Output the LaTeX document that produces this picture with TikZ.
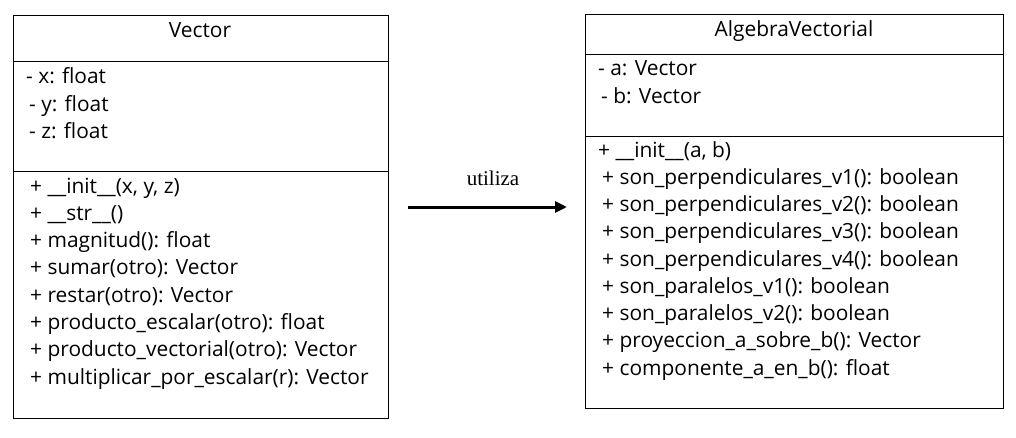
\documentclass[tikz,border=0pt]{standalone}
\usepackage{fontspec}
\setmainfont{Open Sans}
\newfontfamily\serifx{Liberation Serif}
\usetikzlibrary{arrows.meta}
\tikzset{
  box/.style={draw=black, line width=1pt},
  txt/.style={anchor=base west, inner sep=0pt, font=\fontsize{20.9}{24}\selectfont},
  ttl/.style={anchor=base, inner sep=0pt, font=\fontsize{20.9}{24}\selectfont},
  rel/.style={line width=3pt, -{Triangle[length=12pt,width=11pt]}},
}
\begin{document}
\begin{tikzpicture}[x=1pt,y=-1pt]
\useasboundingbox (0,0) rectangle (1016,437);
% Vector class
\draw[box] (13,15) rectangle (388,418);
\draw[box] (13,61) -- (388,61);
\draw[box] (13,171) -- (388,171);
\node[ttl] (vt) at (200,37) {Vector};
\node[txt] (v1) at (26,83) {- x: float};
\node[txt] (v2) at (29,111) {- y: float};
\node[txt] (v3) at (29,138) {- z: float};
\node[txt] (m1) at (30,193) {+ \_\_init\_\_(x, y, z)};
\node[txt] (m2) at (30,220.3) {+ \_\_str\_\_()};
\node[txt] (m3) at (30,247.6) {+ magnitud(): float};
\node[txt] (m4) at (30,274.9) {+ sumar(otro): Vector};
\node[txt] (m5) at (30,302.2) {+ restar(otro): Vector};
\node[txt] (m6) at (30,329.5) {+ producto\_escalar(otro): float};
\node[txt] (m7) at (30,356.8) {+ producto\_vectorial(otro): Vector};
\node[txt] (m8) at (30,384.1) {+ multiplicar\_por\_escalar(r): Vector};
% AlgebraVectorial class
\draw[box] (585,14) rectangle (1003,408);
\draw[box] (585,54) -- (1003,54);
\draw[box] (585,136) -- (1003,136);
\node[ttl] (at) at (794,36) {AlgebraVectorial};
\node[txt] (a1) at (598,75) {- a: Vector};
\node[txt] (a2) at (601,103) {- b: Vector};
\node[txt] (b1) at (598,157) {+ \_\_init\_\_(a, b)};
\node[txt] (b2) at (602,184.25) {+ son\_perpendiculares\_v1(): boolean};
\node[txt] (b3) at (602,211.5) {+ son\_perpendiculares\_v2(): boolean};
\node[txt] (b4) at (602,238.75) {+ son\_perpendiculares\_v3(): boolean};
\node[txt] (b5) at (602,266) {+ son\_perpendiculares\_v4(): boolean};
\node[txt] (b6) at (602,293.25) {+ son\_paralelos\_v1(): boolean};
\node[txt] (b7) at (602,320.5) {+ son\_paralelos\_v2(): boolean};
\node[txt] (b8) at (602,347.75) {+ proyeccion\_a\_sobre\_b(): Vector};
\node[txt] (b9) at (602,375) {+ componente\_a\_en\_b(): float};
% relation
\coordinate (s) at (408,207);
\coordinate (e) at (567,207);
\draw[rel] (s) -- (e);
\node[anchor=base, inner sep=0pt, font=\serifx\fontsize{21}{25}\selectfont] (lbl) at (493,185) {utiliza};
\end{tikzpicture}
\end{document}
